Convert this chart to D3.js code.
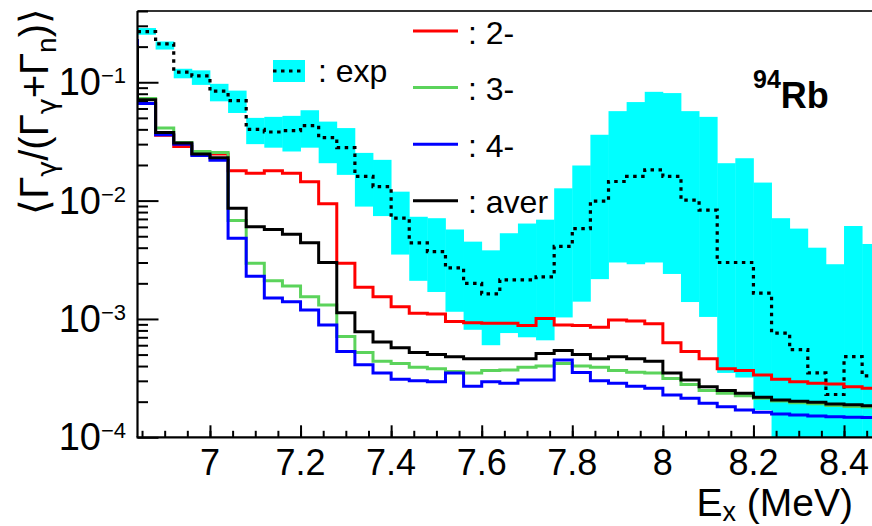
<!DOCTYPE html>
<html>
<head>
<meta charset="utf-8">
<script src="https://cdn.jsdelivr.net/npm/d3@7"></script>
<style>
  body { margin: 0; background: #fff; }
  svg { display: block; }
  text { font-family: "Liberation Sans", Arial, Helvetica, sans-serif; fill: #000; }
  .greek { font-family: "DejaVu Sans", "Liberation Sans", sans-serif; }
</style>
</head>
<body>
<svg id="chart" width="872" height="526"></svg>
<script>
// Lower edges of the 40 keV excitation-energy bins (first bin lies left of the axis)
const binLow = [6.80, 6.84, 6.88, 6.92, 6.96, 7.00, 7.04, 7.08, 7.12, 7.16, 7.20, 7.24, 7.28, 7.32,
  7.36, 7.40, 7.44, 7.48, 7.52, 7.56, 7.60, 7.64, 7.68, 7.72, 7.76, 7.80, 7.84, 7.88, 7.92, 7.96,
  8.00, 8.04, 8.08, 8.12, 8.16, 8.20, 8.24, 8.28, 8.32, 8.36, 8.40, 8.44];
const binWidth = 0.04;

// Experimental ratio: central value and band limits
const expValue = [null, 0.268, 0.211, 0.122, 0.113, 0.084, 0.070, 0.040, 0.038, 0.039, 0.043, 0.034,
  0.028, 0.016, 0.0131, 0.0071, 0.0044, 0.0037, 0.0027, 0.0020, 0.00163, 0.00214, 0.00214, 0.00227,
  0.0041, 0.0058, 0.0099, 0.0145, 0.016, 0.0182, 0.016, 0.0101, 0.0083, 0.0030, 0.0030, 0.00165,
  0.00076, 0.00055, 0.00035, 0.00023, 0.00048, 0.00033];
const expHigh = [null, 0.287, 0.221, 0.130, 0.126, 0.097, 0.085, 0.050, 0.051, 0.052, 0.058, 0.0465,
  0.041, 0.0253, 0.0221, 0.0119, 0.0073, 0.0071, 0.0057, 0.0045, 0.0038, 0.0053, 0.0064, 0.0069,
  0.0127, 0.0198, 0.036, 0.057, 0.068, 0.083, 0.081, 0.057, 0.051, 0.0207, 0.0228, 0.0142,
  0.0071, 0.0058, 0.0040, 0.0029, 0.0061, 0.0043];
const expLow = [null, 0.252, 0.189, 0.108, 0.095, 0.069, 0.055, 0.030, 0.028, 0.026, 0.028, 0.0207,
  0.0165, 0.0089, 0.0074, 0.0035, 0.0021, 0.00169, 0.00115, 0.00081, 0.00060, 0.00076, 0.00070, 0.00066,
  0.00103, 0.00140, 0.00217, 0.0030, 0.0029, 0.0030, 0.0024, 0.00139, 0.00104, 0.00035, 0.00032, 0.00017,
  0.00004, 0.00004, 0.00004, 0.00004, 0.00004, 0.00004];

// Calculated ratios for each spin-parity and their average
const spin2 = [0.195, 0.072, 0.0356, 0.0286, 0.0251, 0.0248, 0.0179, 0.0170, 0.0179, 0.0170, 0.0144,
  0.0094, 0.00296, 0.00185, 0.00154, 0.00127, 0.00112, 0.00110, 0.00095, 0.00093, 0.00092, 0.00092,
  0.00088, 0.00101, 0.00089, 0.00088, 0.00085, 0.00098, 0.00096, 0.00091, 0.00063, 0.00053, 0.00046,
  0.00038, 0.000366, 0.000336, 0.000309, 0.000295, 0.000286, 0.000282, 0.000268, 0.00026];
const spin3 = [0.19, 0.073, 0.041, 0.031, 0.026, 0.0255, 0.0068, 0.00296, 0.0021, 0.0019, 0.00154,
  0.00131, 0.00071, 0.00052, 0.00044, 0.00042, 0.00039, 0.00038, 0.00036, 0.00035, 0.000366, 0.00037,
  0.00039, 0.00040, 0.00042, 0.00040, 0.00039, 0.000366, 0.000354, 0.00035, 0.000314, 0.00028, 0.000248,
  0.000236, 0.000224, 0.000214, 0.000203, 0.000196, 0.000192, 0.000186, 0.000182, 0.00018];
const spin4 = [0.225, 0.066, 0.036, 0.030, 0.024, 0.0219, 0.0048, 0.0023, 0.0015, 0.0014, 0.00119,
  0.00089, 0.00053, 0.00041, 0.00035, 0.00031, 0.00030, 0.000295, 0.00035, 0.00027, 0.000295, 0.000286,
  0.000305, 0.000305, 0.00045, 0.000352, 0.0003, 0.000286, 0.00027, 0.00026, 0.000228, 0.000214, 0.000194,
  0.000181, 0.00017, 0.000163, 0.000157, 0.000154, 0.000151, 0.000149, 0.000148, 0.000147];
const average = [0.200, 0.071, 0.0377, 0.0306, 0.0248, 0.0230, 0.0086, 0.0060, 0.0057, 0.0052, 0.0044,
  0.0030, 0.00113, 0.00078, 0.00064, 0.00057, 0.00052, 0.00050, 0.00048, 0.00046, 0.00046, 0.00046,
  0.00046, 0.00051, 0.00054, 0.00050, 0.00046, 0.00048, 0.00046, 0.00044, 0.00035, 0.000305, 0.000268,
  0.000248, 0.000236, 0.000218, 0.000207, 0.000202, 0.000198, 0.000191, 0.000188, 0.000185];

const xTicks = [7, 7.2, 7.4, 7.6, 7.8, 8, 8.2, 8.4];
const xTickLabels = ["7", "7.2", "7.4", "7.6", "7.8", "8", "8.2", "8.4"];
const yTicks = [1e-4, 1e-3, 1e-2, 1e-1];
const yTickExponents = ["\u22124", "\u22123", "\u22122", "\u22121"];

const legendSpins = [
  { label: ": 2-", color: "#ff0000" },
  { label: ": 3-", color: "#5bd35b" },
  { label: ": 4-", color: "#0000ff" },
  { label: ": aver", color: "#000000" }
];

const svg = d3.select("#chart");
const frame = { left: 137.5, top: 11, bottom: 437.3 };

const x = d3.scaleLinear().domain([6.84, 8.5]).range([frame.left, frame.left + 1.66 * 452.9]);
const y = d3.scaleLog().domain([1e-4, 0.4]).range([frame.bottom, frame.top]);

svg.append("clipPath").attr("id", "plotClip")
  .append("rect")
  .attr("x", frame.left).attr("y", frame.top)
  .attr("width", x.range()[1] - frame.left).attr("height", frame.bottom - frame.top);

const plot = svg.append("g").attr("clip-path", "url(#plotClip)");

// Experimental uncertainty band
const bandData = binLow.map((lo, i) => ({ lo, hi: expHigh[i], lw: expLow[i] })).filter(d => d.hi != null);
plot.append("g").selectAll("rect").data(bandData).join("rect")
  .attr("x", d => x(d.lo))
  .attr("width", d => x(d.lo + binWidth) - x(d.lo) + 0.4)
  .attr("y", d => y(d.hi))
  .attr("height", d => y(d.lw) - y(d.hi))
  .attr("fill", "#00ffff");

function stepPoints(values) {
  const pts = [];
  values.forEach((v, i) => {
    if (v == null) return;
    pts.push([binLow[i], v], [binLow[i] + binWidth, v]);
  });
  return pts;
}
const stepLine = d3.line().x(d => x(d[0])).y(d => y(d[1]));

plot.append("path").attr("d", stepLine(stepPoints(expValue)))
  .attr("fill", "none").attr("stroke", "#000").attr("stroke-width", 3.2)
  .attr("stroke-dasharray", "3.5,4.5");

[[spin2, "#ff0000"], [spin3, "#5bd35b"], [spin4, "#0000ff"], [average, "#000000"]].forEach(([vals, col]) => {
  plot.append("path").attr("d", stepLine(stepPoints(vals)))
    .attr("fill", "none").attr("stroke", col).attr("stroke-width", 3)
    .attr("stroke-linejoin", "miter");
});

// Frame and axes
const axisColor = "#000";
svg.append("line").attr("x1", frame.left).attr("x2", 900).attr("y1", frame.top).attr("y2", frame.top)
  .attr("stroke", "#333").attr("stroke-width", 2);

const yAxis = d3.axisRight(y).tickValues(yTicks).tickSize(21).tickFormat("");
const yMinor = [];
[1e-4, 1e-3, 1e-2, 1e-1].forEach(dec => { for (let m = 2; m <= 9; m++) if (dec * m <= 0.4) yMinor.push(dec * m); });
const yAxisMinor = d3.axisRight(y).tickValues(yMinor).tickSize(10.5).tickFormat("");

const gyMinor = svg.append("g").attr("transform", `translate(${frame.left},0)`).call(yAxisMinor);
const gy = svg.append("g").attr("transform", `translate(${frame.left},0)`).call(yAxis);
[gy, gyMinor].forEach(g => {
  g.select(".domain").remove();
  g.selectAll("line").attr("stroke", axisColor).attr("stroke-width", 2);
});
svg.append("line").attr("x1", frame.left).attr("x2", frame.left).attr("y1", frame.top).attr("y2", frame.bottom)
  .attr("stroke", axisColor).attr("stroke-width", 2.2);

const xMinor = d3.range(0, 34).map(i => +(6.85 + 0.05 * i).toFixed(2));
const gxMinor = svg.append("g").attr("transform", `translate(0,${frame.bottom})`)
  .call(d3.axisTop(x).tickValues(xMinor).tickSize(6.5).tickFormat(""));
const gx = svg.append("g").attr("transform", `translate(0,${frame.bottom})`)
  .call(d3.axisTop(x).tickValues(xTicks).tickSize(12).tickFormat(""));
[gx, gxMinor].forEach(g => {
  g.select(".domain").remove();
  g.selectAll("line").attr("stroke", axisColor).attr("stroke-width", 2);
});
svg.append("line").attr("x1", frame.left - 1).attr("x2", 900).attr("y1", frame.bottom).attr("y2", frame.bottom)
  .attr("stroke", axisColor).attr("stroke-width", 2.2);

// Tick labels
svg.append("g").selectAll("text").data(xTicks).join("text")
  .attr("x", d => x(d)).attr("y", 475)
  .attr("text-anchor", "middle").attr("font-size", 36)
  .text((d, i) => xTickLabels[i]);

const yl = svg.append("g").selectAll("text").data(yTicks).join("text")
  .attr("x", 126).attr("y", d => y(d) + 13)
  .attr("text-anchor", "end").attr("font-size", 38);
yl.append("tspan").text("10");
yl.append("tspan").attr("dy", -12).attr("font-size", 22).text((d, i) => yTickExponents[i]);

// Axis titles
const xt = svg.append("text").attr("x", 853).attr("y", 516).attr("text-anchor", "end").attr("font-size", 39);
xt.append("tspan").text("E");
xt.append("tspan").attr("dy", 5).attr("font-size", 27).text("x");
xt.append("tspan").attr("dy", -5).text(" (MeV)");

const yt = svg.append("text").attr("transform", "translate(48,8) rotate(-90)")
  .attr("text-anchor", "end").attr("font-size", 40);
yt.append("tspan").text("\u27E8\u0393");
yt.append("tspan").attr("class", "greek").attr("dy", 8).attr("font-size", 27).text("\u03B3");
yt.append("tspan").attr("dy", -8).text("/(\u0393");
yt.append("tspan").attr("class", "greek").attr("dy", 8).attr("font-size", 27).text("\u03B3");
yt.append("tspan").attr("dy", -8).text("+\u0393");
yt.append("tspan").attr("dy", 8).attr("font-size", 28).text("n");
yt.append("tspan").attr("dy", -8).text(")\u27E9");

// Nucleus label
const nl = svg.append("text").attr("x", 753).attr("y", 108).attr("font-weight", "bold").attr("font-size", 36);
nl.append("tspan").attr("dy", -20).attr("font-size", 25).text("94");
nl.append("tspan").attr("dy", 20).text("Rb");

// Legend: experiment
const expLeg = svg.append("g");
expLeg.append("rect").attr("x", 273).attr("y", 60).attr("width", 32).attr("height", 22).attr("fill", "#00ffff");
expLeg.append("line").attr("x1", 273).attr("x2", 305).attr("y1", 71).attr("y2", 71)
  .attr("stroke", "#000").attr("stroke-width", 3.2).attr("stroke-dasharray", "3.5,4.5");
expLeg.append("text").attr("x", 318).attr("y", 82).attr("font-size", 32).text(": exp");

// Legend: calculations
const spinLeg = svg.append("g").selectAll("g").data(legendSpins).join("g")
  .attr("transform", (d, i) => `translate(0,${31 + i * 56.6})`);
spinLeg.append("line").attr("x1", 413).attr("x2", 458).attr("y1", 0).attr("y2", 0)
  .attr("stroke", d => d.color).attr("stroke-width", 3);
spinLeg.append("text").attr("x", 468).attr("y", 12.5).attr("font-size", 32).text(d => d.label);
</script>
</body>
</html>
